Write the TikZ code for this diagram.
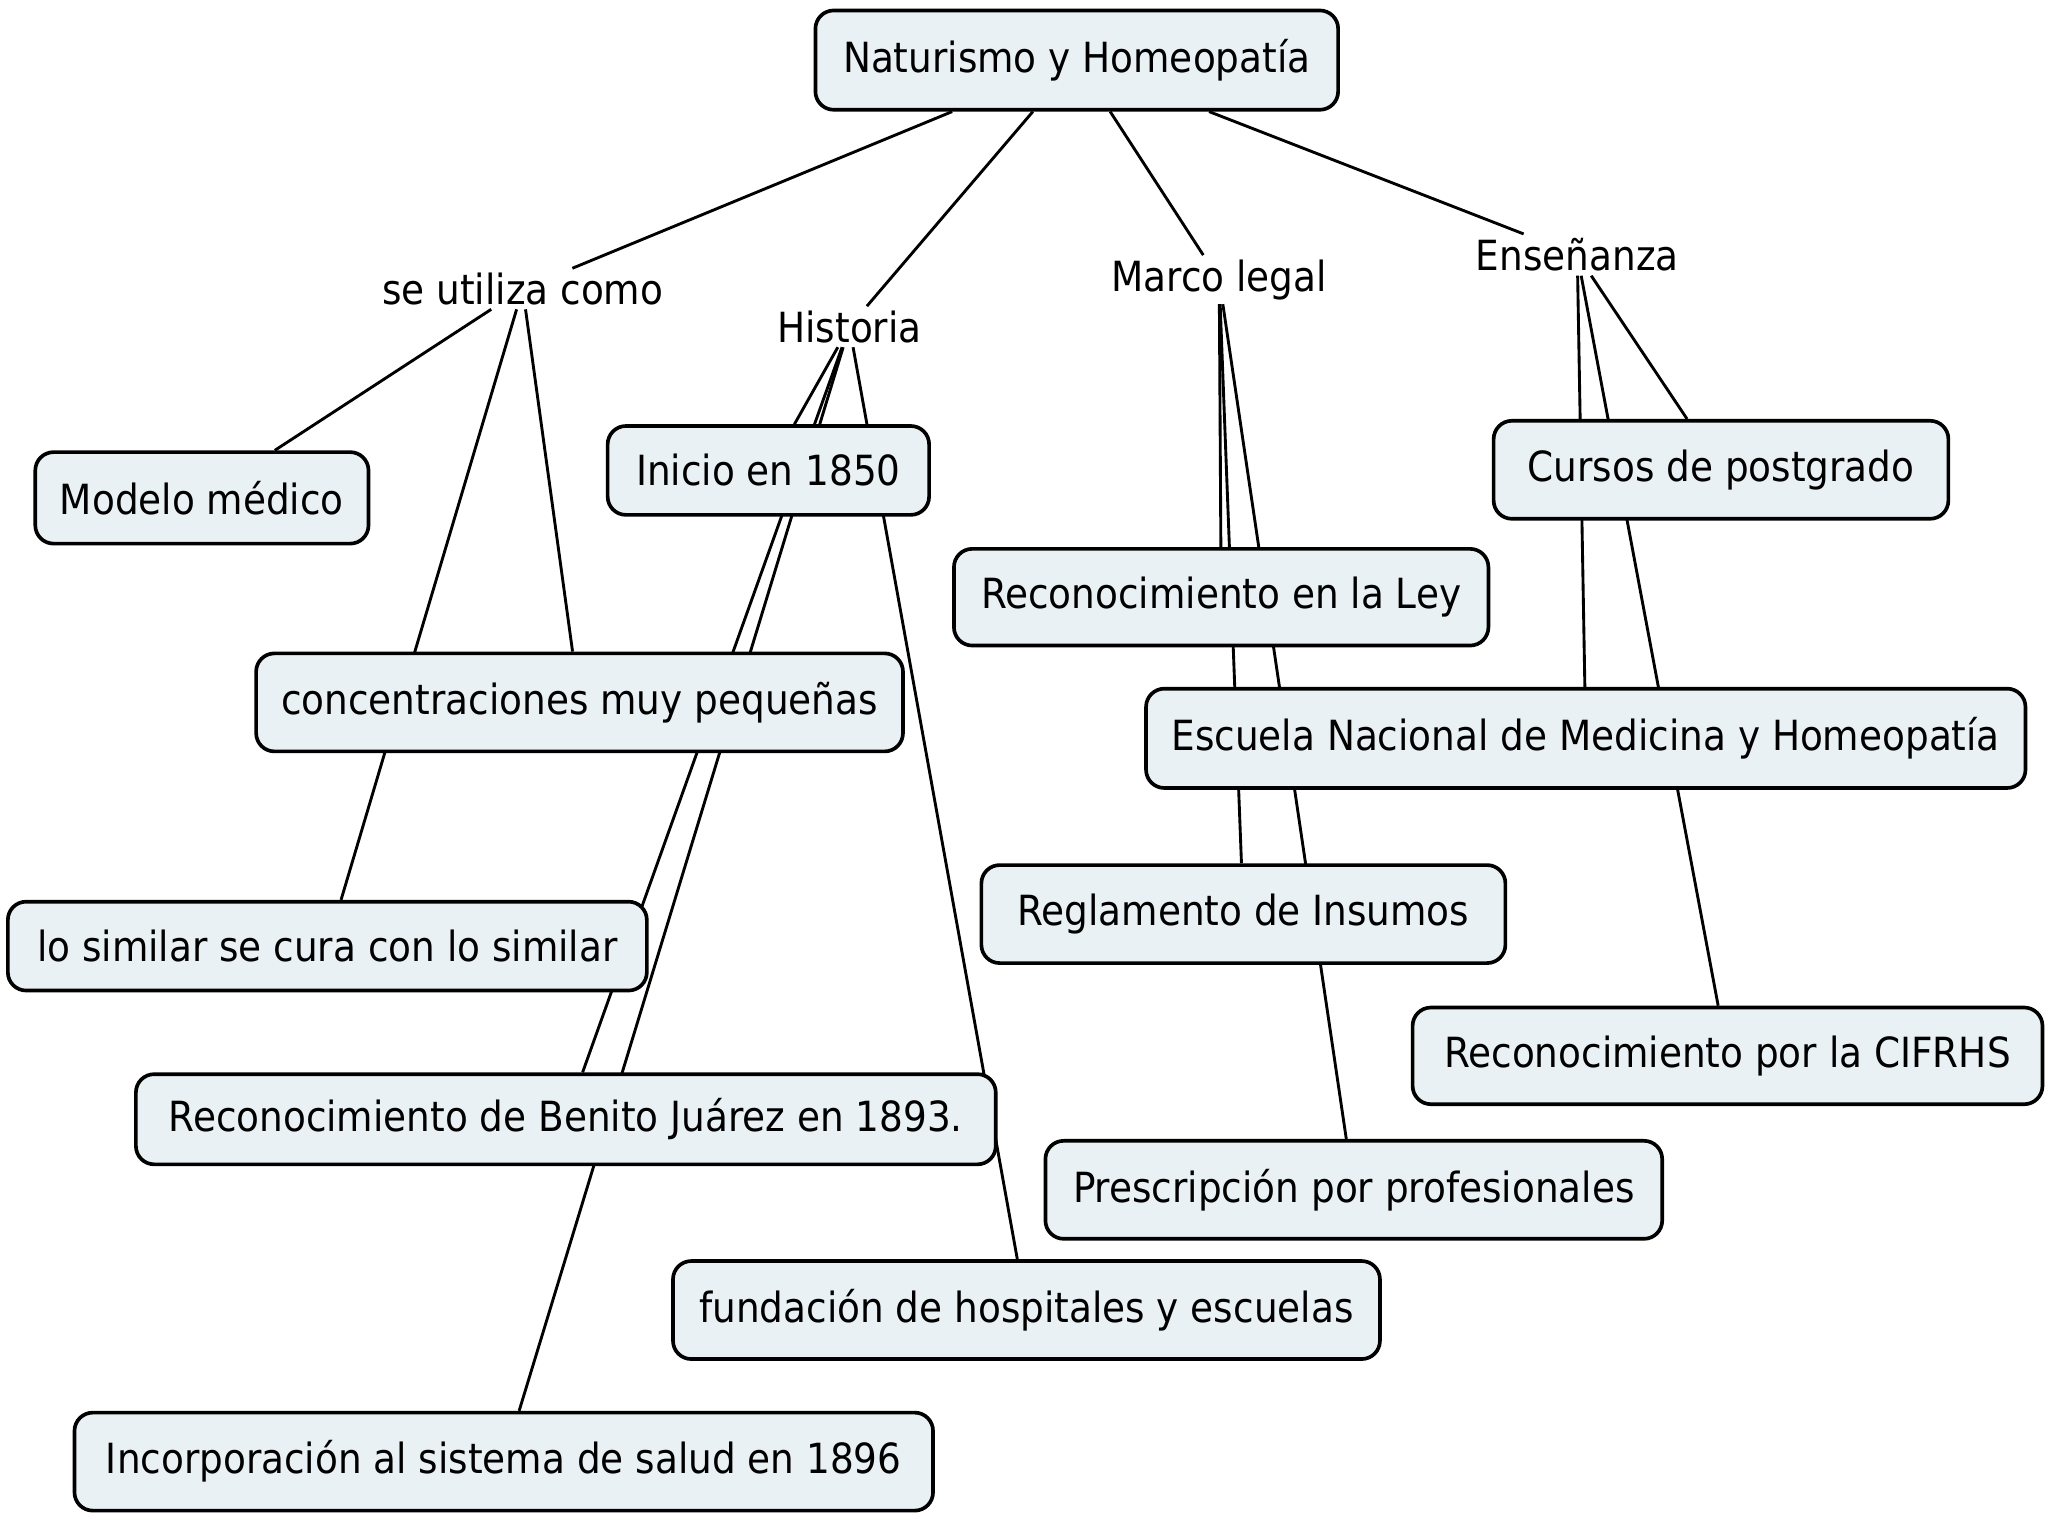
\documentclass[tikz,border=0pt]{standalone}
\usepackage{fontspec}
\setmainfont{DejaVu Sans Condensed}
\usetikzlibrary{backgrounds}
\definecolor{boxfill}{RGB}{233,241,245}
\tikzset{
  concept/.style={draw, fill=boxfill, rounded corners=7pt, line width=1.4pt, inner sep=0pt},
  linkword/.style={inner sep=1.5pt},
  link/.style={line width=1.1pt}
}
\begin{document}
\begin{tikzpicture}[x=0.5pt, y=-0.5pt, font=\fontsize{15.9}{19}\selectfont]
  \useasboundingbox (0,0) rectangle (1568,1162);

  % main concept and link words
  \node [concept, minimum width=200pt, minimum height=38pt] (root) at (824,46) {Naturismo y Homeopatía};
  \node [linkword] (uso) at (400,221) {se utiliza como};
  \node [linkword] (hist) at (650,250) {Historia};
  \node [linkword] (marco) at (933,214) {Marco legal};
  \node [linkword] (ense) at (1207,195) {Enseñanza};

  % concepts
  \node [concept, minimum width=127.5pt, minimum height=35pt] (modelo) at (154.5,381) {Modelo médico};
  \node [concept, minimum width=123pt, minimum height=34pt] (inicio) at (588,360) {Inicio en 1850};
  \node [concept, minimum width=174pt, minimum height=37.5pt] (cursos) at (1317,359.5) {Cursos de postgrado};
  \node [concept, minimum width=204.5pt, minimum height=37pt] (ley) at (934.5,457) {Reconocimiento en la Ley};
  \node [concept, minimum width=247.5pt, minimum height=37.5pt] (concent) at (443.5,537.5) {concentraciones muy pequeñas};
  \node [concept, minimum width=336.5pt, minimum height=38pt] (escuela) at (1213.5,565) {Escuela Nacional de Medicina y Homeopatía};
  \node [concept, minimum width=200.5pt, minimum height=37.5pt] (insumos) at (951.5,699.5) {Reglamento de Insumos};
  \node [concept, minimum width=244.5pt, minimum height=34pt] (similar) at (250.5,724) {lo similar se cura con lo similar};
  \node [concept, minimum width=241pt, minimum height=37pt] (cifrhs) at (1322,808) {Reconocimiento por la CIFRHS};
  \node [concept, minimum width=329pt, minimum height=34.5pt] (juarez) at (433,856.5) {Reconocimiento de Benito Juárez en 1893.};
  \node [concept, minimum width=236pt, minimum height=37.5pt] (prescr) at (1036,910.5) {Prescripción por profesionales};
  \node [concept, minimum width=270.5pt, minimum height=37.5pt] (fundac) at (785.5,1002.5) {fundación de hospitales y escuelas};
  \node [concept, minimum width=328.5pt, minimum height=37.5pt] (incorp) at (385.5,1118.5) {Incorporación al sistema de salud en 1896};

  % connectors behind the boxes
  \begin{scope}[on background layer]
    \draw [link] (root) -- (uso);
    \draw [link] (root) -- (hist);
    \draw [link] (root) -- (marco);
    \draw [link] (root) -- (ense);
    \draw [link] (uso) -- (modelo);
    \draw [link] (uso) -- (concent);
    \draw [link] (uso) -- (similar);
    \draw [link] (hist) -- (inicio);
    \draw [link] (hist) -- (juarez);
    \draw [link] (hist) -- (incorp);
    \draw [link] (hist) -- (fundac);
    \draw [link] (marco) -- (ley);
    \draw [link] (marco) -- (insumos);
    \draw [link] (marco) -- (prescr);
    \draw [link] (ense) -- (cursos);
    \draw [link] (ense) -- (escuela);
    \draw [link] (ense) -- (cifrhs);
  \end{scope}
\end{tikzpicture}
\end{document}
